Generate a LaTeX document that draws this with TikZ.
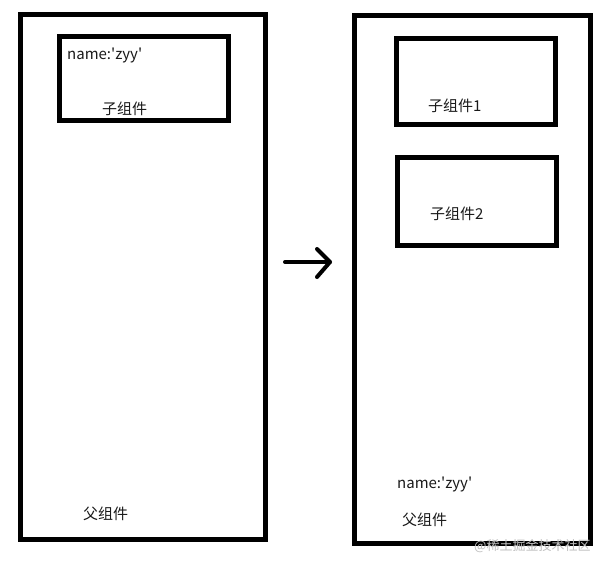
\documentclass[tikz,border=0pt]{standalone}
\usepackage{fontspec}
\setmainfont{Noto Sans CJK SC}
\newfontfamily\cjk{Noto Sans CJK SC}
\begin{document}
\begin{tikzpicture}[x=1pt,y=-1pt,
  box/.style={draw=black,line width=5pt},
  lbl/.style={font=\fontsize{15}{17}\selectfont\cjk,inner sep=0pt,anchor=west,text=black!90},
  arr/.style={line width=4pt,line cap=round,line join=round}]
\useasboundingbox (0,0) rectangle (605,568);
% left
\draw[box] (20.5,14) rectangle (265.5,539.5);
\draw[box] (59,36.5) rectangle (228,120.5);
\node[lbl] (n1) at (67,55) {name:'zyy'};
\node[lbl] (c0) at (102,109) {子组件};
\node[lbl] (p1) at (83,514) {父组件};
% arrow
\coordinate (a1) at (285,262);
\coordinate (a2) at (330,262);
\draw[arr] (a1) -- (a2);
\draw[arr] (317,249) -- (a2) -- (317,277);
% right
\draw[box] (354.5,15.5) rectangle (590.5,543.5);
\draw[box] (396.5,38.5) rectangle (555,124.5);
\draw[box] (397.5,157.5) rectangle (556.5,245.5);
\node[lbl] (c1) at (428,106) {子组件1};
\node[lbl] (c2) at (430,214) {子组件2};
\node[lbl] (n2) at (397,484) {name:'zyy'};
\node[lbl] (p2) at (402,520) {父组件};
\node[lbl,text=black!25,font=\fontsize{13}{15}\selectfont\cjk] (wm) at (474,546) {@稀土掘金技术社区};
\end{tikzpicture}
\end{document}
